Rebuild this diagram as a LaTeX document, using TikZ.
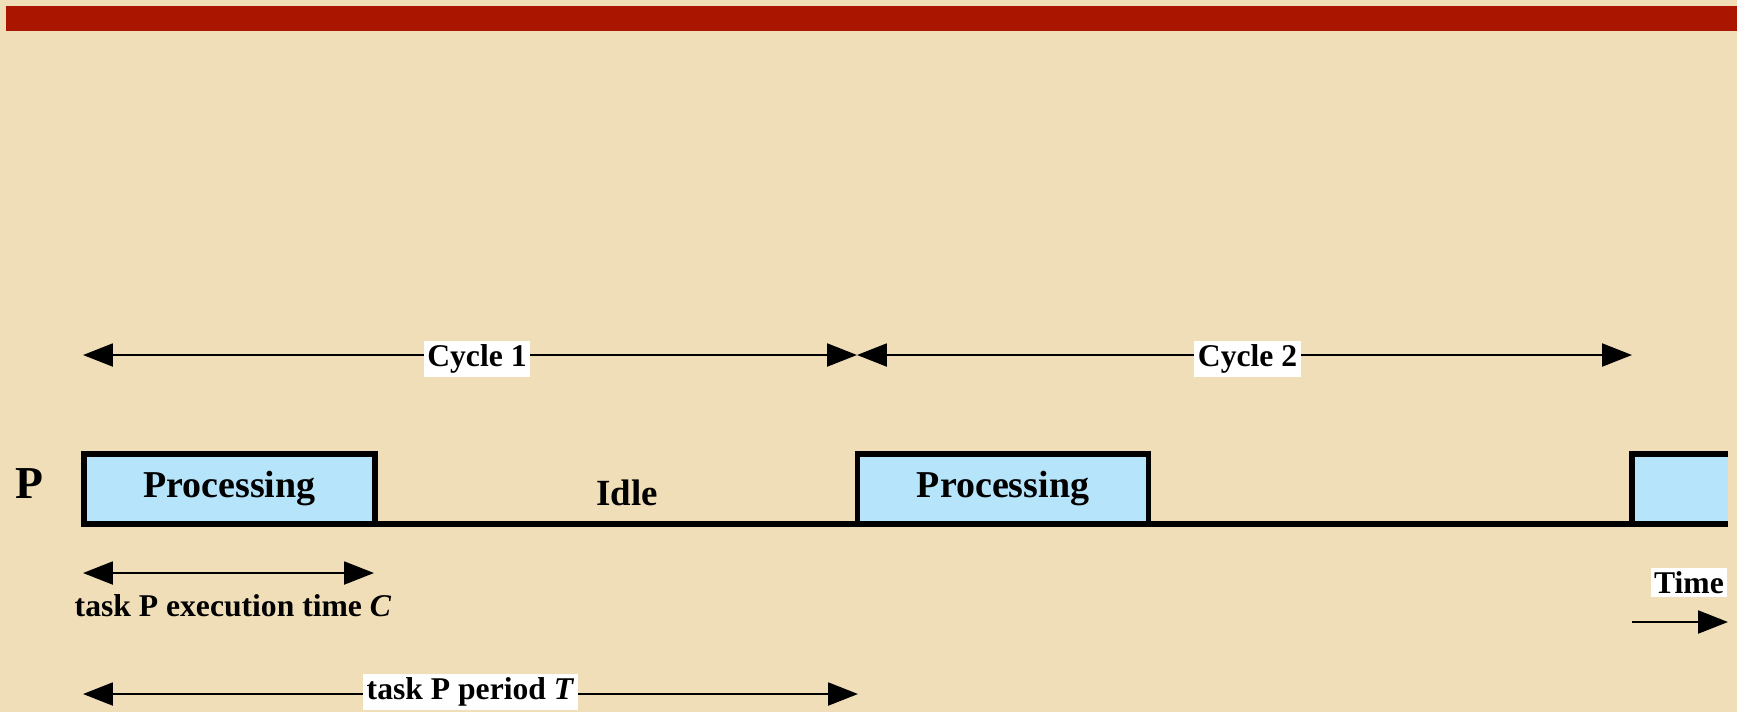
\documentclass[tikz,border=0pt]{standalone}
\usepackage{fontspec}
\setmainfont{Liberation Serif}
\usetikzlibrary{arrows.meta,positioning}
\definecolor{parchment}{RGB}{240,222,185}
\definecolor{barred}{RGB}{170,21,0}
\definecolor{procblue}{RGB}{182,228,250}
\begin{document}
\begin{tikzpicture}[x=1cm,y=-1cm,
  procbox/.style={draw,line width=1.7pt,fill=procblue,outer sep=0pt,
    minimum width=2.91cm,minimum height=0.70cm,anchor=south west,
    font=\fontsize{10.8}{12}\selectfont\bfseries},
  dimarrow/.style={{Triangle[length=8.5pt,width=6.5pt]}-{Triangle[length=8.5pt,width=6.5pt]},line width=0.7pt},
  timearrow/.style={-{Triangle[length=8.5pt,width=6.5pt]},line width=0.7pt},
  lbl/.style={fill=white,inner sep=1pt,font=\fontsize{9}{10}\selectfont\bfseries}]
  \fill[parchment] (0,0) rectangle (17.37,7.12);
  \useasboundingbox (0,0) rectangle (17.37,7.12);
  \fill[barred] (0.06,0.06) rectangle (17.37,0.31);

  % time axis
  \coordinate (t0) at (0.84,5.24);
  \coordinate (t2) at (8.575,5.24);
  \coordinate (t4) at (16.315,5.24);
  \coordinate (tend) at (17.28,5.24);

  \node[font=\fontsize{13}{14}\selectfont\bfseries] (plabel) at (0.29,4.84) {P};
  \node[procbox] (proc1) at (t0) {Processing};
  \node[procbox] (proc2) at (t2) {Processing};
  \fill[procblue] (t4) rectangle (17.28,4.535);
  \draw[line width=1.7pt] (t4) |- (17.28,4.535);
  \draw[line width=1.7pt] (t0) -- (tend);
  \node[font=\fontsize{10.5}{12}\selectfont\bfseries] (idle) at (6.27,4.93) {Idle};

  % cycles
  \coordinate (c0) at (0.83,3.55);
  \coordinate (c1) at (8.57,3.55);
  \coordinate (c2) at (16.32,3.55);
  \draw[dimarrow] (c0) -- (c1) node[lbl,pos=0.509,yshift=-0.4mm] (cyc1) {Cycle 1};
  \draw[dimarrow] (c1) -- (c2) node[lbl,pos=0.504,yshift=-0.4mm] (cyc2) {Cycle 2};

  % execution time and period
  \coordinate (e0) at (0.83,5.73);
  \coordinate (e1) at (3.74,5.73);
  \coordinate (emid) at (2.33,5.73);
  \draw[dimarrow] (e0) -- (e1);
  \node[below=0.17cm of emid,inner sep=1pt,
    font=\fontsize{9}{10}\selectfont\bfseries] (exec) {task P execution time \textit{C}};

  \coordinate (p0) at (0.83,6.94);
  \coordinate (p1) at (8.58,6.94);
  \draw[dimarrow] (p0) -- (p1) node[lbl,pos=0.5,yshift=0.2mm] (period) {task P period \textit{T}};

  % time direction
  \coordinate (a0) at (16.32,6.22);
  \coordinate (a1) at (17.28,6.22);
  \draw[timearrow] (a0) -- (a1);
  \node[lbl,above left=0.24cm and 0cm of a1,anchor=south east] (time) {Time};
\end{tikzpicture}
\end{document}
